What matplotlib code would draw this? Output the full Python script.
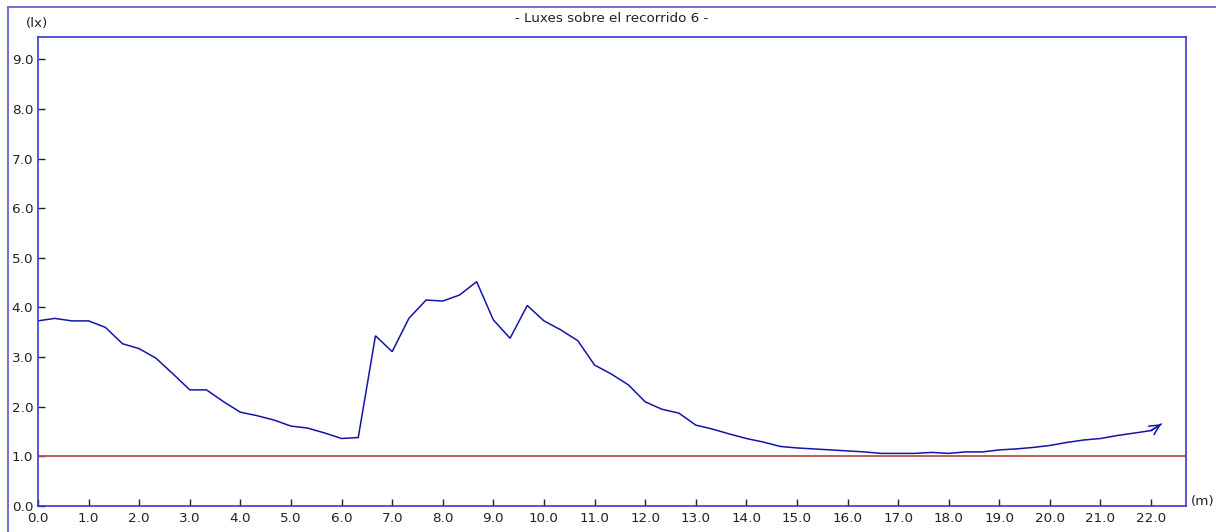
import matplotlib
matplotlib.use("Agg")
import matplotlib.pyplot as plt
from matplotlib.lines import Line2D

# Illuminance measured along route 6 (sampled every 1/3 m)
distance_m = [0.00, 0.33, 0.67, 1.00, 1.33, 1.67, 2.00, 2.33, 2.67, 3.00,
              3.33, 3.67, 4.00, 4.33, 4.67, 5.00, 5.33, 5.67, 6.00, 6.33,
              6.67, 7.00, 7.33, 7.67, 8.00, 8.33, 8.67, 9.00, 9.33, 9.67,
              10.00, 10.33, 10.67, 11.00, 11.33, 11.67, 12.00, 12.33, 12.67, 13.00,
              13.33, 13.67, 14.00, 14.33, 14.67, 15.00, 15.33, 15.67, 16.00, 16.33,
              16.67, 17.00, 17.33, 17.67, 18.00, 18.33, 18.67, 19.00, 19.33, 19.67,
              20.00, 20.33, 20.67, 21.00, 21.33, 21.67, 22.00, 22.20]
lux = [3.73, 3.78, 3.73, 3.73, 3.60, 3.27, 3.17, 2.98, 2.66, 2.34,
       2.34, 2.10, 1.89, 1.82, 1.73, 1.61, 1.57, 1.47, 1.36, 1.38,
       3.43, 3.11, 3.78, 4.15, 4.13, 4.25, 4.52, 3.75, 3.38, 4.04,
       3.73, 3.55, 3.33, 2.84, 2.66, 2.44, 2.10, 1.95, 1.87, 1.63,
       1.55, 1.45, 1.36, 1.29, 1.20, 1.17, 1.15, 1.13, 1.11, 1.09,
       1.06, 1.06, 1.06, 1.08, 1.06, 1.09, 1.09, 1.13, 1.15, 1.18,
       1.22, 1.28, 1.33, 1.36, 1.42, 1.47, 1.52, 1.65]
min_level = 1.0

x_ticks = [float(v) for v in range(0, 23)]
y_ticks = [float(v) for v in range(0, 10)]
title = "- Luxes sobre el recorrido 6 -"

W, H = 1216, 532
fs = 9.7
fig = plt.figure(figsize=(W / 100, H / 100), dpi=100)
plt.rcParams['font.family'] = ['DejaVu Sans']

# outer frame (top and left edges)
frame_c = '#6f6fd6'
fig.add_artist(Line2D([8 / W, 1.0], [1 - 6.5 / H, 1 - 6.5 / H], color=frame_c, lw=1.4,
                      transform=fig.transFigure))
fig.add_artist(Line2D([8 / W, 8 / W], [0.0, 1 - 6.5 / H], color=frame_c, lw=1.4,
                      transform=fig.transFigure))

left, right, top, bottom = 38, 1186, 37, 506
ax = fig.add_axes([left / W, 1 - bottom / H, (right - left) / W, (bottom - top) / H])

line_c = '#1414a8'
ax.plot(distance_m, lux, color=line_c, lw=1.1, solid_joinstyle='miter')
ax.annotate('', xy=(distance_m[-1], lux[-1]), xytext=(distance_m[-2], lux[-2]),
            arrowprops=dict(arrowstyle='->', color=line_c, lw=1.1,
                            shrinkA=0, shrinkB=0, mutation_scale=18))
ax.axhline(min_level, color='#b85050', lw=1.3)

ax.set_xlim(0, 22.69)
ax.set_ylim(0, 9.45)
ax.set_xticks(x_ticks)
ax.set_xticklabels([f"{v:.1f}" for v in x_ticks])
ax.set_yticks(y_ticks)
ax.set_yticklabels([f"{v:.1f}" for v in y_ticks])
ax.tick_params(direction='in', length=5, width=1, color='#222222',
               labelcolor='#222222', labelsize=fs)
ax.tick_params(axis='x', pad=4.5)
ax.tick_params(axis='y', pad=3.5)

for name, sp in ax.spines.items():
    sp.set_color('#3a3ad0')
    sp.set_linewidth(1.2)

fig.text((left + right) / 2 / W, 1 - 18 / H, title, ha='center', va='center',
         fontsize=fs, color='#222222')
fig.text(37 / W, 1 - 23 / H, '(lx)', ha='center', va='center', fontsize=fs, color='#222222')
fig.text(1191 / W, 1 - 502 / H, '(m)', ha='left', va='center', fontsize=fs, color='#222222')

fig.savefig('out.png', dpi=100)
